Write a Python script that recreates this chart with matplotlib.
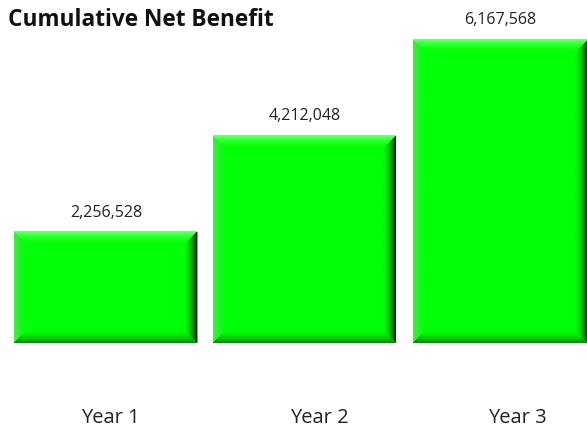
import numpy as np
import matplotlib.pyplot as plt
from matplotlib.colors import to_rgb

years = ['Year 1', 'Year 2', 'Year 3']
benefit = [2256528, 4212048, 6167568]

plt.rcParams['font.family'] = ['Open Sans', 'DejaVu Sans']

W, H, DPI = 587, 428, 100
fig = plt.figure(figsize=(W / DPI, H / DPI), dpi=DPI)
ax = fig.add_axes([0, 85 / H, 1, 343 / H])

px_per_cat = 199.0
px_per_unit = 49.2e-6
x = np.arange(len(years))
ax.set_xlim(-106 / px_per_cat, (W - 106) / px_per_cat)
ax.set_ylim(0, 343 / px_per_unit)
ax.axis('off')

bars = ax.bar(x, benefit, width=183 / px_per_cat, color='#00ff00', zorder=1)

base = np.array(to_rgb('#00ff08'))
top_c = np.array(to_rgb('#70ff70'))
left_c = np.array(to_rgb('#60d860'))
right_c = np.array(to_rgb('#003800'))
bot_c = np.array(to_rgb('#009000'))


def bevel_image(wpx, hpx, bw=13):
    # distance of each pixel to each edge, the nearest edge decides the shade
    yy, xx = np.mgrid[0:hpx, 0:wpx]
    d = np.stack([yy, hpx - 1 - yy, xx, wpx - 1 - xx])  # top, bottom, left, right
    side = d.argmin(axis=0)
    dist = d.min(axis=0)
    t = np.clip(1 - dist / bw, 0, 1)[..., None] ** 1.8
    img = np.empty((hpx, wpx, 3))
    img[:] = base
    for k, c in enumerate([top_c, bot_c, left_c, right_c]):
        m = side == k
        img[m] = (base * (1 - t) + c * t)[m]
    return img


xmax = ax.get_xlim()[1]
for b, v in zip(bars, benefit):
    x0 = b.get_x()
    x1 = min(b.get_x() + b.get_width(), xmax)
    wpx = int(round((x1 - x0) * px_per_cat))
    hpx = int(round(v * px_per_unit))
    ax.imshow(bevel_image(wpx, hpx), extent=(x0, x1, 0, v), aspect='auto',
              interpolation='bilinear', zorder=2)
    ax.annotate(f'{v:,}', xy=((x0 + x1) / 2, v), xytext=(0, 14),
                textcoords='offset points', ha='center', va='center',
                fontsize=11.5, color='#222222')

# category labels sit a little right of the bar centres in the original
label_shift = [3, 10, 10]
for i, yl in enumerate(years):
    ax.annotate(yl, xy=(i, 0), xycoords=('data', 'axes fraction'),
                xytext=(label_shift[i], -54), textcoords='offset points',
                ha='center', va='center', fontsize=14.5, color='#222222')

ax.set_xlim(-106 / px_per_cat, (W - 106) / px_per_cat)
ax.set_ylim(0, 343 / px_per_unit)

fig.text(8 / W, 1 - 20 / H, 'Cumulative Net Benefit', fontsize=16.3,
         fontweight='bold', ha='left', va='center', color='#111111')

fig.savefig('out.png', dpi=DPI)
